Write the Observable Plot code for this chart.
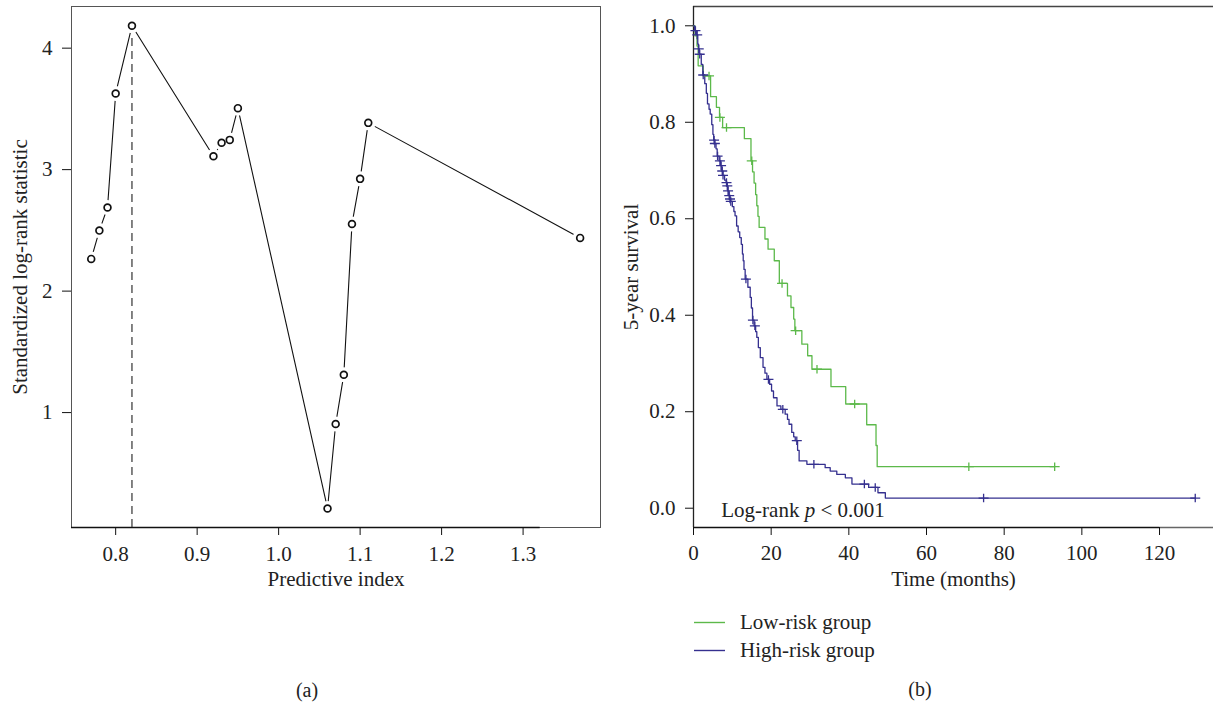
<!DOCTYPE html>
<html><head><meta charset="utf-8">
<script src="https://cdn.jsdelivr.net/npm/d3@7"></script>
<script src="https://cdn.jsdelivr.net/npm/@observablehq/plot@0.6"></script>
<style>
body{margin:0;background:#fff;font-family:"Liberation Serif","DejaVu Serif",serif;}
#wrap{position:relative;width:1213px;height:703px;overflow:hidden;background:#fff;}
.abs{position:absolute;}
.cap{font-size:20px;color:#222;width:60px;text-align:center;line-height:24px;}
.leg{font-size:21px;color:#222;display:flex;align-items:center;height:28px;white-space:nowrap;}
.leg span{margin-left:15px;}
</style></head><body>
<div id="wrap">
  <div id="left" class="abs" style="left:0;top:0;"></div>
  <div id="right" class="abs" style="left:610px;top:0;"></div>
  <div id="legend" class="abs" style="left:694px;top:608px;"></div>
  <div class="abs cap" style="left:277px;top:678px;">(a)</div>
  <div class="abs cap" style="left:890px;top:677px;">(b)</div>
</div>
<script>
// ---------- Panel (a): standardized log-rank statistic vs predictive index ----------
const predictiveIndex = [0.77,0.78,0.79,0.80,0.82,0.92,0.93,0.94,0.95,1.06,1.07,1.08,1.09,1.10,1.11,1.37];
const logRankStat = [2.265,2.498,2.688,3.627,4.184,3.110,3.221,3.245,3.506,0.211,0.906,1.312,2.553,2.924,3.385,2.438];
const optimalCutoff = 0.82;
const xTicksA = [0.8,0.9,1.0,1.1,1.2,1.3];
const yTicksA = [1,2,3,4];

// ---------- Panel (b): Kaplan-Meier curves ----------
const groups = ["Low-risk group","High-risk group"];
const groupColors = ["#5cb94a","#35308f"];
const lowTime = [0,0.4,0.9,1.2,2.5,4.4,5.9,6.7,7.5,13.1,14.8,15.2,15.6,16.0,16.3,16.6,16.9,18.4,19.2,20.8,22.1,24.2,25.1,25.8,26.1,27.9,29.4,30.5,35.4,39.2,44.6,47.0,47.3,93.0];
const lowSurv = [1.0,0.979,0.958,0.917,0.896,0.853,0.831,0.810,0.789,0.766,0.720,0.697,0.674,0.650,0.627,0.605,0.582,0.558,0.537,0.513,0.466,0.440,0.416,0.392,0.368,0.340,0.316,0.288,0.252,0.216,0.173,0.130,0.086,0.086];
const lowCensor = [4.0,6.8,8.5,15.0,22.8,26.3,31.8,41.5,70.9,93.0];
const highTime = [0,0.3,0.8,1.1,1.3,1.5,2.0,2.4,2.9,3.3,3.6,4.0,4.3,4.7,5.0,5.2,5.45,5.8,6.1,6.6,7.0,7.3,7.55,8.0,8.4,8.65,8.85,9.1,9.35,9.55,10.0,10.4,10.7,11.1,11.5,11.9,12.3,12.6,12.8,13.0,13.3,14.0,14.6,14.9,15.2,15.6,16.0,16.3,16.7,17.2,17.9,18.4,18.9,19.6,20.1,20.6,21.5,22.5,23.6,24.2,24.6,25.3,25.8,26.2,26.8,27.2,29.2,33.9,35.2,36.9,39.1,40.8,45.1,47.5,49.4,129.2];
const highSurv = [1.0,0.990,0.981,0.962,0.952,0.941,0.920,0.898,0.880,0.860,0.838,0.827,0.817,0.795,0.775,0.763,0.756,0.745,0.730,0.720,0.710,0.699,0.690,0.680,0.675,0.668,0.658,0.648,0.641,0.636,0.625,0.615,0.606,0.585,0.573,0.561,0.547,0.527,0.513,0.495,0.475,0.458,0.437,0.415,0.390,0.378,0.366,0.354,0.333,0.312,0.292,0.280,0.267,0.257,0.243,0.229,0.212,0.205,0.195,0.184,0.174,0.157,0.148,0.140,0.120,0.098,0.091,0.084,0.077,0.070,0.063,0.050,0.043,0.032,0.021,0.021];
const highCensor = [0.5,0.95,1.35,1.6,2.5,5.3,5.5,6.2,6.8,7.1,7.4,7.6,8.5,8.7,8.9,9.2,9.4,9.6,13.5,15.3,15.8,19.3,23.0,26.6,31.0,44.0,46.8,74.7,129.2];
const xTicksB = [0,20,40,60,80,100,120];
const yTicksB = [0,0.2,0.4,0.6,0.8,1.0];
const pLabel = "Log-rank p < 0.001";

const FONT = "'Liberation Serif','DejaVu Serif',serif";
const FS = 21;

// ---- Panel (a) ----
const ptsA = predictiveIndex.map((x,i)=>({x, y: logRankStat[i]}));
const xDomA = [0.7458, 1.395];
const yDomA = [0.054, 4.343];
const cutStat = logRankStat[predictiveIndex.indexOf(optimalCutoff)];
const plotA = Plot.plot({
  width: 605, height: 600,
  marginLeft: 71, marginRight: 5, marginTop: 6, marginBottom: 73,
  style: {fontFamily: FONT, fontSize: FS + "px", color: "#222", background: "transparent", overflow: "visible"},
  x: {domain: xDomA},
  y: {domain: yDomA},
  marks: [
    Plot.frame({stroke: "#555", strokeWidth: 1}),
    Plot.ruleY([yDomA[0]], {x1: xDomA[0], x2: 1.321, stroke: "#111", strokeWidth: 1.6}),
    Plot.ruleX([optimalCutoff], {y1: yDomA[0], y2: cutStat, stroke: "#333", strokeWidth: 1.2, strokeDasharray: "8,5"}),
    Plot.line(ptsA, {x: "x", y: "y", stroke: "#111", strokeWidth: 1.1}),
    Plot.dot(ptsA, {x: "x", y: "y", r: 7.5, fill: "white", stroke: "none"}),
    Plot.dot(ptsA, {x: "x", y: "y", r: 3.4, fill: "white", stroke: "#111", strokeWidth: 1.7}),
    Plot.axisX({ticks: xTicksA, tickFormat: d3.format(".1f"), tickSize: 8, tickPadding: 11, stroke: "#111", fontSize: FS,
      label: "Predictive index", labelAnchor: "center", labelArrow: "none", labelOffset: 58}),
    Plot.axisY({ticks: yTicksA, tickFormat: d3.format("d"), tickSize: 9, tickPadding: 10, stroke: "#111", fontSize: FS,
      label: "Standardized log-rank statistic", labelAnchor: "center", labelArrow: "none", labelOffset: 59})
  ]
});
document.getElementById("left").appendChild(plotA);

// ---- Panel (b) ----
function stepLookup(times, surv, t){ let v = surv[0]; for (let i=0;i<times.length;i++){ if (times[i] <= t) v = surv[i]; } return v; }
const lowCurve = lowTime.map((t,i)=>({t, s: lowSurv[i], g: groups[0]}));
const highCurve = highTime.map((t,i)=>({t, s: highSurv[i], g: groups[1]}));
const lowCens = lowCensor.map(t=>({t, s: stepLookup(lowTime, lowSurv, t), g: groups[0]}));
const highCens = highCensor.map(t=>({t, s: stepLookup(highTime, highSurv, t), g: groups[1]}));
const plusSymbol = {draw(ctx, size){ const r = Math.sqrt(size/Math.PI); ctx.moveTo(-r,0); ctx.lineTo(r,0); ctx.moveTo(0,-r*0.85); ctx.lineTo(0,r*0.85); }};
const xDomB = [0, 133.9];
const yDomB = [-0.04, 1.04];
const plotB = Plot.plot({
  width: 603, height: 600,
  marginLeft: 83, marginRight: 0, marginTop: 6, marginBottom: 73,
  style: {fontFamily: FONT, fontSize: FS + "px", color: "#222", background: "transparent"},
  x: {domain: xDomB},
  y: {domain: yDomB},
  color: {domain: groups, range: groupColors},
  marks: [
    Plot.ruleY([yDomB[1]], {x1: xDomB[0], x2: xDomB[1], stroke: "#444", strokeWidth: 1.3}),
    Plot.ruleY([yDomB[0]], {x1: 120, x2: xDomB[1], stroke: "#666", strokeWidth: 1.3}),
    Plot.ruleY([yDomB[0]], {x1: xDomB[0], x2: 120, stroke: "#111", strokeWidth: 1.6}),
    Plot.ruleX([xDomB[0]], {y1: yDomB[0], y2: yDomB[1], stroke: "#222", strokeWidth: 1.3}),
    Plot.line(lowCurve, {x: "t", y: "s", stroke: "g", curve: "step-after", strokeWidth: 1.3}),
    Plot.line(highCurve, {x: "t", y: "s", stroke: "g", curve: "step-after", strokeWidth: 1.3}),
    Plot.dot(lowCens, {x: "t", y: "s", stroke: "g", fill: "none", symbol: plusSymbol, r: 5, strokeWidth: 1.3}),
    Plot.dot(highCens, {x: "t", y: "s", stroke: "g", fill: "none", symbol: plusSymbol, r: 5, strokeWidth: 1.3}),
    Plot.text([pLabel], {x: 28.2, y: 0, text: d=>d, fontSize: FS, fill: "#222", textAnchor: "middle", dy: 2}),
    Plot.axisX({ticks: xTicksB, tickFormat: d3.format("d"), tickSize: 8, tickPadding: 10, stroke: "#111", fontSize: FS,
      label: "Time (months)", labelAnchor: "center", labelArrow: "none", labelOffset: 58}),
    Plot.axisY({ticks: yTicksB, tickFormat: d3.format(".1f"), tickSize: 8, tickPadding: 10, stroke: "#111", fontSize: FS,
      label: "5-year survival", labelAnchor: "center", labelArrow: "none", labelOffset: 70})
  ]
});
document.getElementById("right").appendChild(plotB);

// italic p in the log-rank annotation
d3.select(plotB).selectAll("text").filter(function(){ return this.textContent === pLabel; }).each(function(){
  const t = d3.select(this); t.text("");
  t.append("tspan").text("Log-rank ");
  t.append("tspan").attr("font-style","italic").text("p");
  t.append("tspan").text(" < 0.001");
});

// legend
const leg = d3.select("#legend");
groups.forEach((g,i)=>{
  const row = leg.append("div").attr("class","leg");
  const s = row.append("svg").attr("width",31).attr("height",28);
  s.append("line").attr("x1",0).attr("x2",31).attr("y1",14.5).attr("y2",14.5).attr("stroke",groupColors[i]).attr("stroke-width",1.4);
  row.append("span").text(g);
});
</script>
</body></html>
